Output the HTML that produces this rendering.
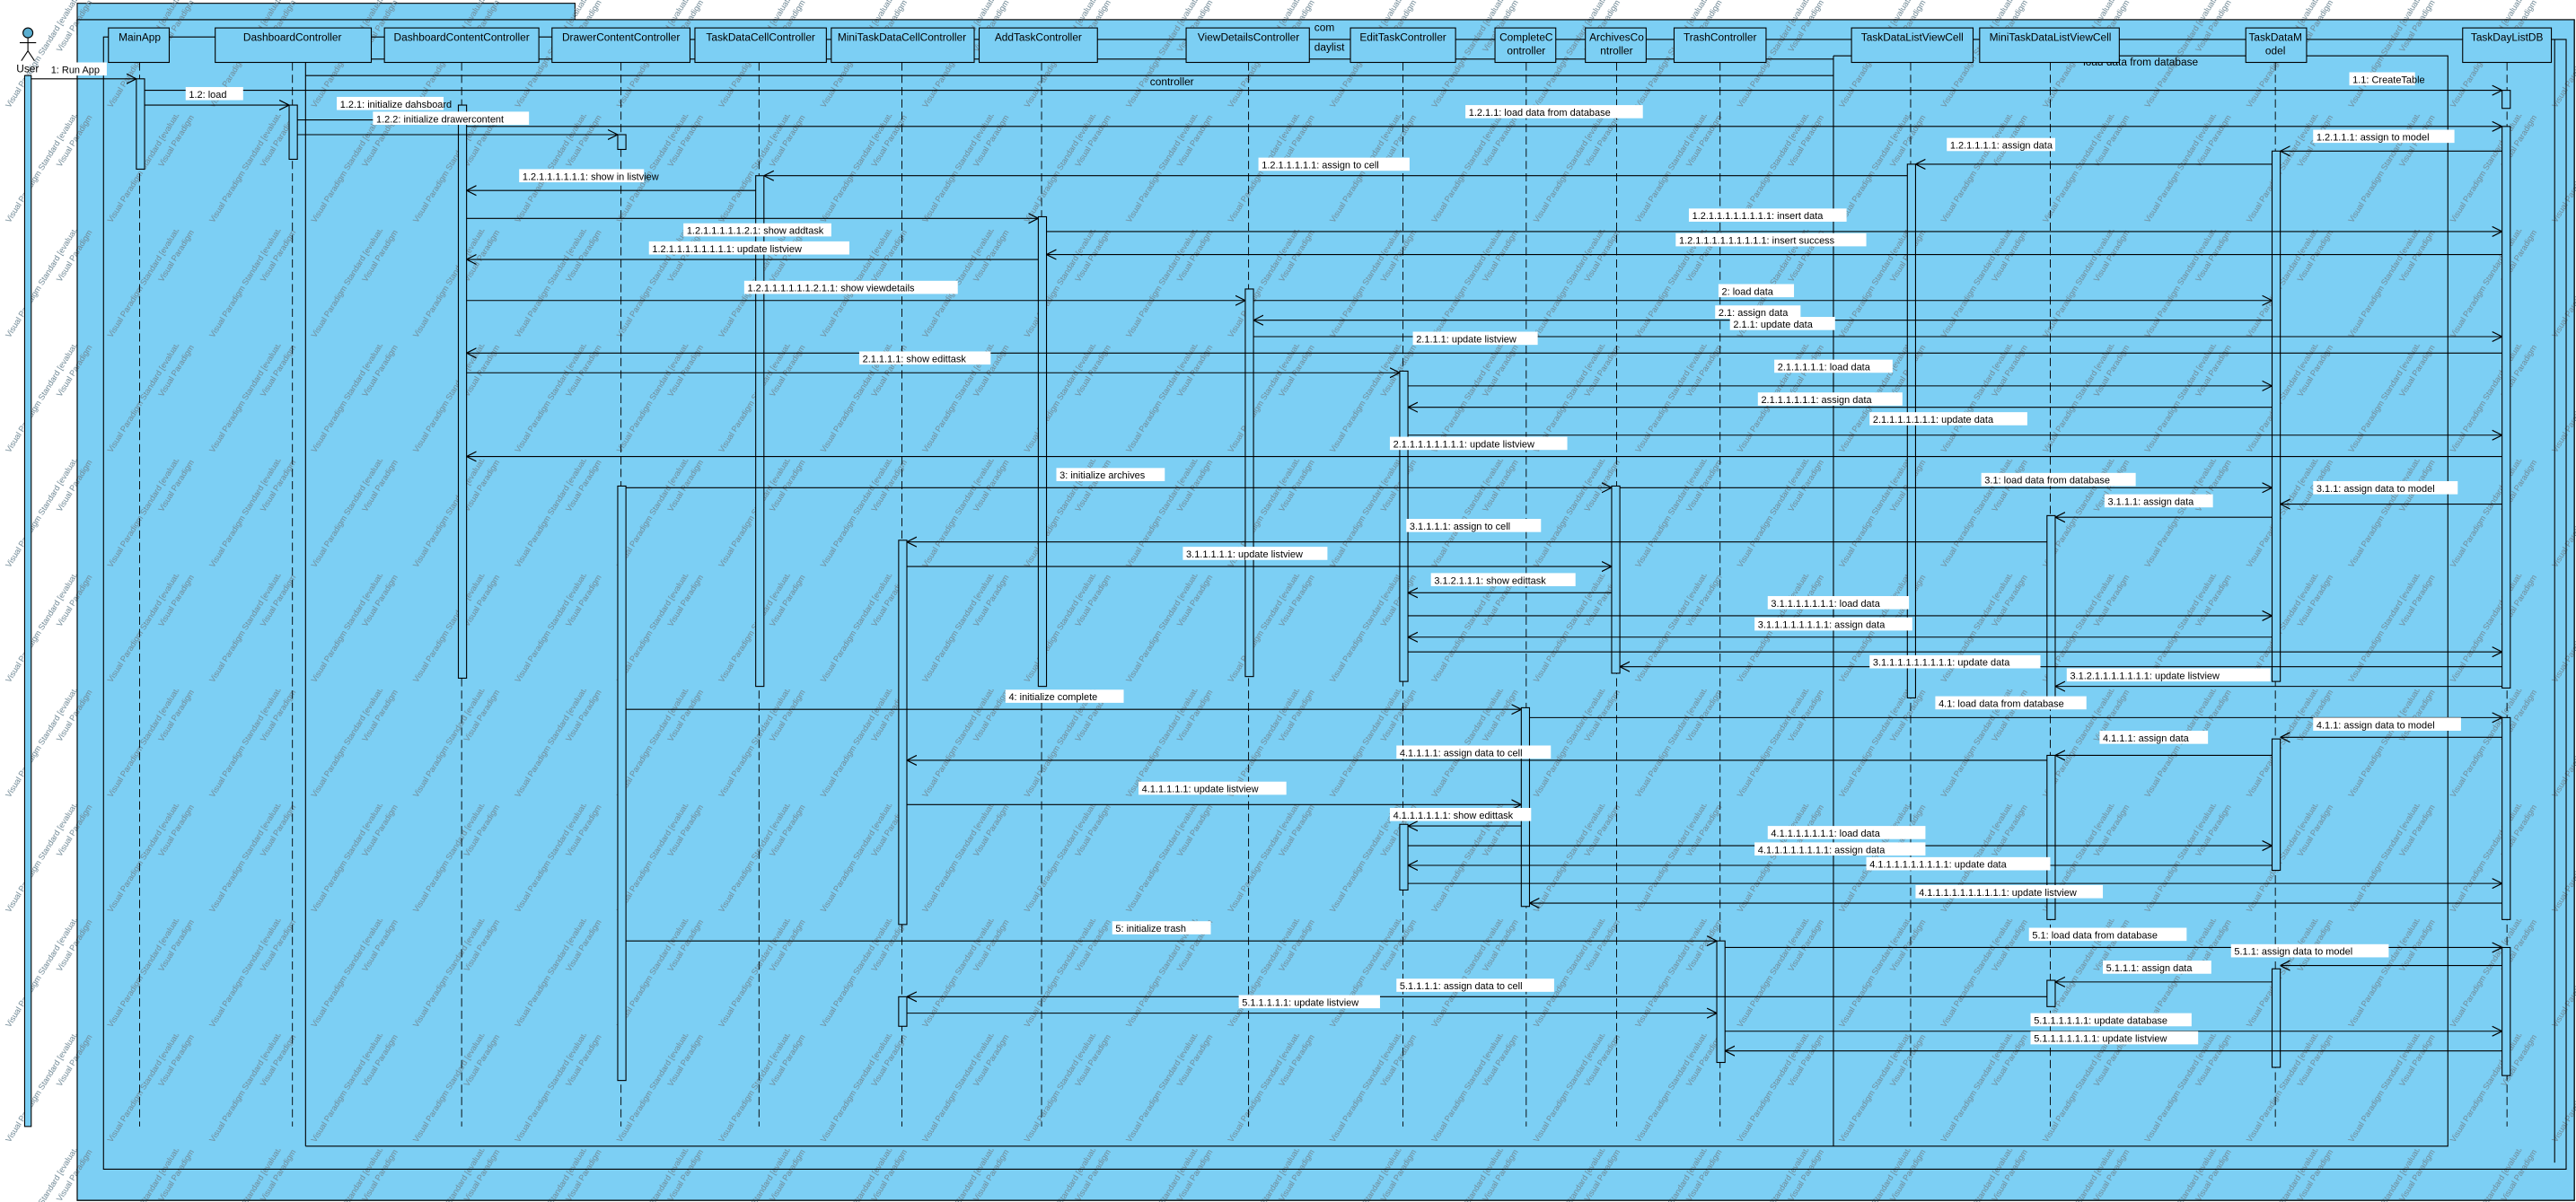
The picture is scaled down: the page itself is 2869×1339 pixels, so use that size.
<!DOCTYPE html>
<html><head><meta charset="utf-8"><style>
html,body{margin:0;padding:0;background:#fff;}
svg{display:block;}
text{font-family:"Liberation Sans Narrow","Liberation Sans",sans-serif;}
</style></head><body>
<svg width="2869" height="1339" viewBox="0 0 1568 732" preserveAspectRatio="none" xmlns="http://www.w3.org/2000/svg">
<defs>
<marker id="a" viewBox="0 0 10 10" refX="10" refY="5" markerWidth="6" markerHeight="7" orient="auto" markerUnits="userSpaceOnUse"><path d="M0,0 L10,5 L0,10" fill="none" stroke="#000" stroke-width="1.1"/></marker>
<pattern id="wm" width="62" height="70" patternUnits="userSpaceOnUse">
<text x="0" y="0" transform="translate(6,66) rotate(-58)" font-size="5" fill="#6e8794">Visual Paradigm Standard [evaluation copy]</text>
<text x="0" y="0" transform="translate(37,32) rotate(-58)" font-size="5" fill="#6e8794">Visual Paradigm Standard [evaluation copy]</text>
</pattern>
</defs>
<rect width="1568" height="732" fill="#fff"/>
<!-- outer frame -->
<rect x="47" y="2" width="303" height="19" fill="#7CCFF4" stroke="#000" stroke-width="0.6"/>
<rect x="47" y="12" width="1520" height="719" fill="#7CCFF4" stroke="#000" stroke-width="0.6"/>
<rect x="0" y="0" width="1568" height="732" fill="url(#wm)"/>
<rect x="47" y="12" width="1520" height="719" fill="none" stroke="#000" stroke-width="0.6"/>
<g fill="none" stroke="#000" stroke-width="0.6">
<path d="M63,712 V22.5 H361 V24 H1562 V712 Z"/>
<path d="M186,698 V36 H1116 M186,46 H1116 M1116,34 V698 M1116,34 H1130 M1290,34 H1490 V698 H186"/>
<line x1="1555" y1="24" x2="1555" y2="708"/>
</g>
<text x="700" y="52" font-size="6.5">controller</text>
<text x="800" y="19" font-size="6.5">com</text>
<text x="800" y="31" font-size="6.5">daylist</text>
<text x="1268" y="40" font-size="6.5">load data from database</text>
<!-- actor -->
<g stroke="#000" stroke-width="0.6" fill="none">
<circle cx="17" cy="20" r="3" fill="#5aaed0"/>
<line x1="17" y1="23" x2="17" y2="31"/><line x1="12" y1="26" x2="22" y2="26"/>
<line x1="17" y1="31" x2="13" y2="37"/><line x1="17" y1="31" x2="21" y2="37"/>
<rect x="15" y="46" width="4" height="640" fill="#7CCFF4"/>
</g>
<text x="10" y="44" font-size="6.5">User</text>
<!-- header boxes -->
<g fill="#7CCFF4" stroke="#000" stroke-width="0.6">
<rect x="66" y="17" width="37" height="21"/><rect x="131" y="17" width="95" height="21"/>
<rect x="234" y="17" width="94" height="21"/><rect x="336" y="17" width="84" height="21"/>
<rect x="423" y="17" width="80" height="21"/><rect x="506" y="17" width="87" height="21"/>
<rect x="596" y="17" width="72" height="21"/><rect x="722" y="17" width="75" height="21"/>
<rect x="822" y="17" width="64" height="21"/><rect x="910" y="17" width="37" height="21"/>
<rect x="965" y="17" width="37" height="21"/><rect x="1019" y="17" width="56" height="21"/>
<rect x="1127" y="17" width="74" height="21"/><rect x="1205" y="17" width="85" height="21"/>
<rect x="1367" y="17" width="37" height="21"/><rect x="1499" y="17" width="54" height="21"/>
</g>
<g font-size="6.5" text-anchor="middle">
<text x="85" y="25">MainApp</text><text x="178" y="25">DashboardController</text>
<text x="281" y="25">DashboardContentController</text><text x="378" y="25">DrawerContentController</text>
<text x="463" y="25">TaskDataCellController</text><text x="549" y="25">MiniTaskDataCellController</text>
<text x="632" y="25">AddTaskController</text><text x="760" y="25">ViewDetailsController</text>
<text x="854" y="25">EditTaskController</text>
<text x="929" y="25">CompleteC</text><text x="929" y="33">ontroller</text>
<text x="984" y="25">ArchivesCo</text><text x="984" y="33">ntroller</text>
<text x="1047" y="25">TrashController</text><text x="1164" y="25">TaskDataListViewCell</text>
<text x="1248" y="25">MiniTaskDataListViewCell</text>
<text x="1385" y="25">TaskDataM</text><text x="1385" y="33">odel</text>
<text x="1526" y="25">TaskDayListDB</text>
</g>
<!-- lifelines -->
<g stroke="#000" stroke-width="0.5" stroke-dasharray="5,2.5">
<line x1="85" y1="38" x2="85" y2="686"/><line x1="178" y1="38" x2="178" y2="686"/>
<line x1="281" y1="38" x2="281" y2="686"/><line x1="378" y1="38" x2="378" y2="686"/>
<line x1="462" y1="38" x2="462" y2="686"/><line x1="549" y1="38" x2="549" y2="686"/>
<line x1="634" y1="38" x2="634" y2="686"/><line x1="760" y1="38" x2="760" y2="686"/>
<line x1="854" y1="38" x2="854" y2="686"/><line x1="929" y1="38" x2="929" y2="686"/>
<line x1="984" y1="38" x2="984" y2="686"/><line x1="1047" y1="38" x2="1047" y2="686"/>
<line x1="1163" y1="38" x2="1163" y2="686"/><line x1="1248" y1="38" x2="1248" y2="686"/>
<line x1="1385" y1="38" x2="1385" y2="686"/><line x1="1526" y1="38" x2="1526" y2="686"/>
</g>
<!-- activations -->
<g fill="#7CCFF4" stroke="#000" stroke-width="0.6">
<rect x="83" y="48" width="5" height="55"/>
<rect x="176" y="64" width="5" height="33"/>
<rect x="279" y="64" width="5" height="349"/>
<rect x="376" y="82" width="5" height="9"/>
<rect x="376" y="296" width="5" height="362"/>
<rect x="460" y="107" width="5" height="311"/>
<rect x="547" y="329" width="5" height="234"/>
<rect x="547" y="607" width="5" height="18"/>
<rect x="632" y="132" width="5" height="286"/>
<rect x="758" y="176" width="5" height="236"/>
<rect x="852" y="226" width="5" height="189"/>
<rect x="852" y="502" width="5" height="40"/>
<rect x="926" y="431" width="5" height="121"/>
<rect x="981" y="296" width="5" height="114"/>
<rect x="1045" y="573" width="5" height="74"/>
<rect x="1161" y="100" width="5" height="325"/>
<rect x="1246" y="314" width="5" height="111"/>
<rect x="1246" y="460" width="5" height="100"/>
<rect x="1246" y="597" width="5" height="16"/>
<rect x="1383" y="92" width="5" height="323"/>
<rect x="1383" y="450" width="5" height="80"/>
<rect x="1383" y="590" width="5" height="60"/>
<rect x="1523" y="55" width="5" height="11"/>
<rect x="1523" y="77" width="5" height="342"/>
<rect x="1523" y="437" width="5" height="123"/>
<rect x="1523" y="577" width="5" height="78"/>
</g>
<!-- messages -->
<g stroke="#000" stroke-width="0.6" marker-end="url(#a)">
<line x1="19" y1="48" x2="83" y2="48"/>
<line x1="88" y1="55" x2="1523" y2="55"/>
<line x1="88" y1="64" x2="176" y2="64"/>
<line x1="181" y1="73" x2="279" y2="73"/>
<line x1="181" y1="82" x2="376" y2="82"/>
<line x1="284" y1="77" x2="1523" y2="77"/>
<line x1="1523" y1="92" x2="1388" y2="92"/>
<line x1="1383" y1="100" x2="1166" y2="100"/>
<line x1="1161" y1="107" x2="465" y2="107"/>
<line x1="460" y1="116" x2="284" y2="116"/>
<line x1="284" y1="133" x2="632" y2="133"/>
<line x1="637" y1="141" x2="1523" y2="141"/>
<line x1="1523" y1="155" x2="637" y2="155"/>
<line x1="632" y1="158" x2="284" y2="158"/>
<line x1="284" y1="183" x2="758" y2="183"/>
<line x1="763" y1="183" x2="1383" y2="183"/>
<line x1="1383" y1="195" x2="763" y2="195"/>
<line x1="763" y1="205" x2="1523" y2="205"/>
<line x1="1523" y1="215" x2="284" y2="215"/>
<line x1="284" y1="227" x2="852" y2="227"/>
<line x1="857" y1="235" x2="1383" y2="235"/>
<line x1="1383" y1="248" x2="857" y2="248"/>
<line x1="857" y1="265" x2="1523" y2="265"/>
<line x1="1523" y1="278" x2="284" y2="278"/>
<line x1="381" y1="297" x2="981" y2="297"/>
<line x1="986" y1="297" x2="1383" y2="297"/>
<line x1="1523" y1="307" x2="1388" y2="307"/>
<line x1="1383" y1="315" x2="1251" y2="315"/>
<line x1="1246" y1="330" x2="552" y2="330"/>
<line x1="552" y1="345" x2="981" y2="345"/>
<line x1="981" y1="361" x2="857" y2="361"/>
<line x1="857" y1="375" x2="1383" y2="375"/>
<line x1="1383" y1="388" x2="857" y2="388"/>
<line x1="857" y1="397" x2="1523" y2="397"/>
<line x1="1523" y1="406" x2="986" y2="406"/>
<line x1="1523" y1="418" x2="1251" y2="418"/>
<line x1="381" y1="432" x2="926" y2="432"/>
<line x1="931" y1="437" x2="1523" y2="437"/>
<line x1="1523" y1="449" x2="1388" y2="449"/>
<line x1="1383" y1="460" x2="1251" y2="460"/>
<line x1="1246" y1="463" x2="552" y2="463"/>
<line x1="552" y1="490" x2="926" y2="490"/>
<line x1="926" y1="503" x2="857" y2="503"/>
<line x1="857" y1="515" x2="1383" y2="515"/>
<line x1="1383" y1="527" x2="857" y2="527"/>
<line x1="857" y1="538" x2="1523" y2="538"/>
<line x1="1523" y1="550" x2="931" y2="550"/>
<line x1="381" y1="573" x2="1045" y2="573"/>
<line x1="1050" y1="577" x2="1523" y2="577"/>
<line x1="1523" y1="588" x2="1388" y2="588"/>
<line x1="1383" y1="598" x2="1251" y2="598"/>
<line x1="1246" y1="607" x2="552" y2="607"/>
<line x1="552" y1="617" x2="1045" y2="617"/>
<line x1="1050" y1="628" x2="1523" y2="628"/>
<line x1="1523" y1="640" x2="1050" y2="640"/>
</g>
<!-- labels -->
<g font-size="6">
<g fill="#fff">
<rect x="29" y="38" width="36" height="8"/>
<rect x="1430" y="44" width="40" height="8"/>
<rect x="113" y="53" width="35" height="8"/>
<rect x="205" y="59" width="65" height="8"/>
<rect x="227" y="68" width="95" height="8"/>
<rect x="892" y="64" width="108" height="8"/>
<rect x="1408" y="79" width="86" height="8"/>
<rect x="1185" y="84" width="66" height="8"/>
<rect x="766" y="96" width="92" height="8"/>
<rect x="316" y="103" width="76" height="8"/>
<rect x="416" y="136" width="90" height="8"/>
<rect x="1028" y="127" width="96" height="8"/>
<rect x="1020" y="142" width="116" height="8"/>
<rect x="395" y="147" width="122" height="8"/>
<rect x="453" y="171" width="130" height="8"/>
<rect x="1046" y="173" width="46" height="8"/>
<rect x="1044" y="186" width="52" height="8"/>
<rect x="1053" y="193" width="64" height="8"/>
<rect x="860" y="202" width="76" height="8"/>
<rect x="523" y="214" width="80" height="8"/>
<rect x="1080" y="219" width="72" height="8"/>
<rect x="1070" y="239" width="88" height="8"/>
<rect x="1138" y="251" width="96" height="8"/>
<rect x="846" y="266" width="108" height="8"/>
<rect x="643" y="285" width="66" height="8"/>
<rect x="1206" y="288" width="94" height="8"/>
<rect x="1408" y="293" width="88" height="8"/>
<rect x="1281" y="301" width="66" height="8"/>
<rect x="856" y="316" width="82" height="8"/>
<rect x="720" y="333" width="88" height="8"/>
<rect x="871" y="349" width="88" height="8"/>
<rect x="1076" y="363" width="86" height="8"/>
<rect x="1068" y="376" width="96" height="8"/>
<rect x="1138" y="399" width="104" height="8"/>
<rect x="1258" y="407" width="124" height="8"/>
<rect x="612" y="420" width="72" height="8"/>
<rect x="1178" y="424" width="92" height="8"/>
<rect x="1408" y="437" width="90" height="8"/>
<rect x="1278" y="445" width="66" height="8"/>
<rect x="850" y="454" width="94" height="8"/>
<rect x="693" y="476" width="90" height="8"/>
<rect x="846" y="492" width="86" height="8"/>
<rect x="1076" y="503" width="96" height="8"/>
<rect x="1068" y="513" width="104" height="8"/>
<rect x="1136" y="522" width="112" height="8"/>
<rect x="1166" y="539" width="114" height="8"/>
<rect x="677" y="561" width="60" height="8"/>
<rect x="1235" y="565" width="96" height="8"/>
<rect x="1358" y="575" width="96" height="8"/>
<rect x="1280" y="585" width="66" height="8"/>
<rect x="850" y="596" width="96" height="8"/>
<rect x="754" y="606" width="86" height="8"/>
<rect x="1236" y="617" width="98" height="8"/>
<rect x="1236" y="628" width="102" height="8"/>
</g>
<text x="31" y="44.5">1: Run App</text>
<text x="1432" y="50.5">1.1: CreateTable</text>
<text x="115" y="59.5">1.2: load</text>
<text x="207" y="65.5">1.2.1: initialize dahsboard</text>
<text x="229" y="74.5">1.2.2: initialize drawercontent</text>
<text x="894" y="70.5">1.2.1.1:  load data from database</text>
<text x="1410" y="85.5">1.2.1.1.1: assign to model</text>
<text x="1187" y="90.5">1.2.1.1.1.1: assign data</text>
<text x="768" y="102.5">1.2.1.1.1.1.1: assign to cell</text>
<text x="318" y="109.5">1.2.1.1.1.1.1.1: show in listview</text>
<text x="418" y="142.5">1.2.1.1.1.1.1.2.1: show addtask</text>
<text x="1030" y="133.5">1.2.1.1.1.1.1.1.1.1: insert data</text>
<text x="1022" y="148.5">1.2.1.1.1.1.1.1.1.1.1: insert success</text>
<text x="397" y="153.5">1.2.1.1.1.1.1.1.1.1: update listview</text>
<text x="455" y="177.5">1.2.1.1.1.1.1.1.2.1.1: show viewdetails</text>
<text x="1048" y="179.5">2: load data</text>
<text x="1046" y="192.5">2.1: assign data</text>
<text x="1055" y="199.5">2.1.1: update data</text>
<text x="862" y="208.5">2.1.1.1: update listview</text>
<text x="525" y="220.5">2.1.1.1.1: show edittask</text>
<text x="1082" y="225.5">2.1.1.1.1.1: load data</text>
<text x="1072" y="245.5">2.1.1.1.1.1.1: assign data</text>
<text x="1140" y="257.5">2.1.1.1.1.1.1.1: update data</text>
<text x="848" y="272.5">2.1.1.1.1.1.1.1.1: update listview</text>
<text x="645" y="291.5">3: initialize archives</text>
<text x="1208" y="294.5">3.1: load data from database</text>
<text x="1410" y="299.5">3.1.1: assign data to model</text>
<text x="1283" y="307.5">3.1.1.1: assign data</text>
<text x="858" y="322.5">3.1.1.1.1: assign to cell</text>
<text x="722" y="339.5">3.1.1.1.1.1: update listview</text>
<text x="873" y="355.5">3.1.2.1.1.1: show edittask</text>
<text x="1078" y="369.5">3.1.1.1.1.1.1.1: load data</text>
<text x="1070" y="382.5">3.1.1.1.1.1.1.1.1: assign data</text>
<text x="1140" y="405.5">3.1.1.1.1.1.1.1.1.1: update data</text>
<text x="1260" y="413.5">3.1.2.1.1.1.1.1.1.1: update listview</text>
<text x="614" y="426.5">4: initialize complete</text>
<text x="1180" y="430.5">4.1: load data from database</text>
<text x="1410" y="443.5">4.1.1: assign data to model</text>
<text x="1280" y="451.5">4.1.1.1: assign data</text>
<text x="852" y="460.5">4.1.1.1.1: assign data to cell</text>
<text x="695" y="482.5">4.1.1.1.1.1: update listview</text>
<text x="848" y="498.5">4.1.1.1.1.1.1: show edittask</text>
<text x="1078" y="509.5">4.1.1.1.1.1.1.1: load data</text>
<text x="1070" y="519.5">4.1.1.1.1.1.1.1.1: assign data</text>
<text x="1138" y="528.5">4.1.1.1.1.1.1.1.1.1: update data</text>
<text x="1168" y="545.5">4.1.1.1.1.1.1.1.1.1.1: update listview</text>
<text x="679" y="567.5">5: initialize trash</text>
<text x="1237" y="571.5">5.1:  load data from database</text>
<text x="1360" y="581.5">5.1.1: assign data to model</text>
<text x="1282" y="591.5">5.1.1.1: assign data</text>
<text x="852" y="602.5">5.1.1.1.1: assign data to cell</text>
<text x="756" y="612.5">5.1.1.1.1.1: update listview</text>
<text x="1238" y="623.5">5.1.1.1.1.1.1: update database</text>
<text x="1238" y="634.5">5.1.1.1.1.1.1.1: update listview</text>
</g>
</svg>
</body></html>
